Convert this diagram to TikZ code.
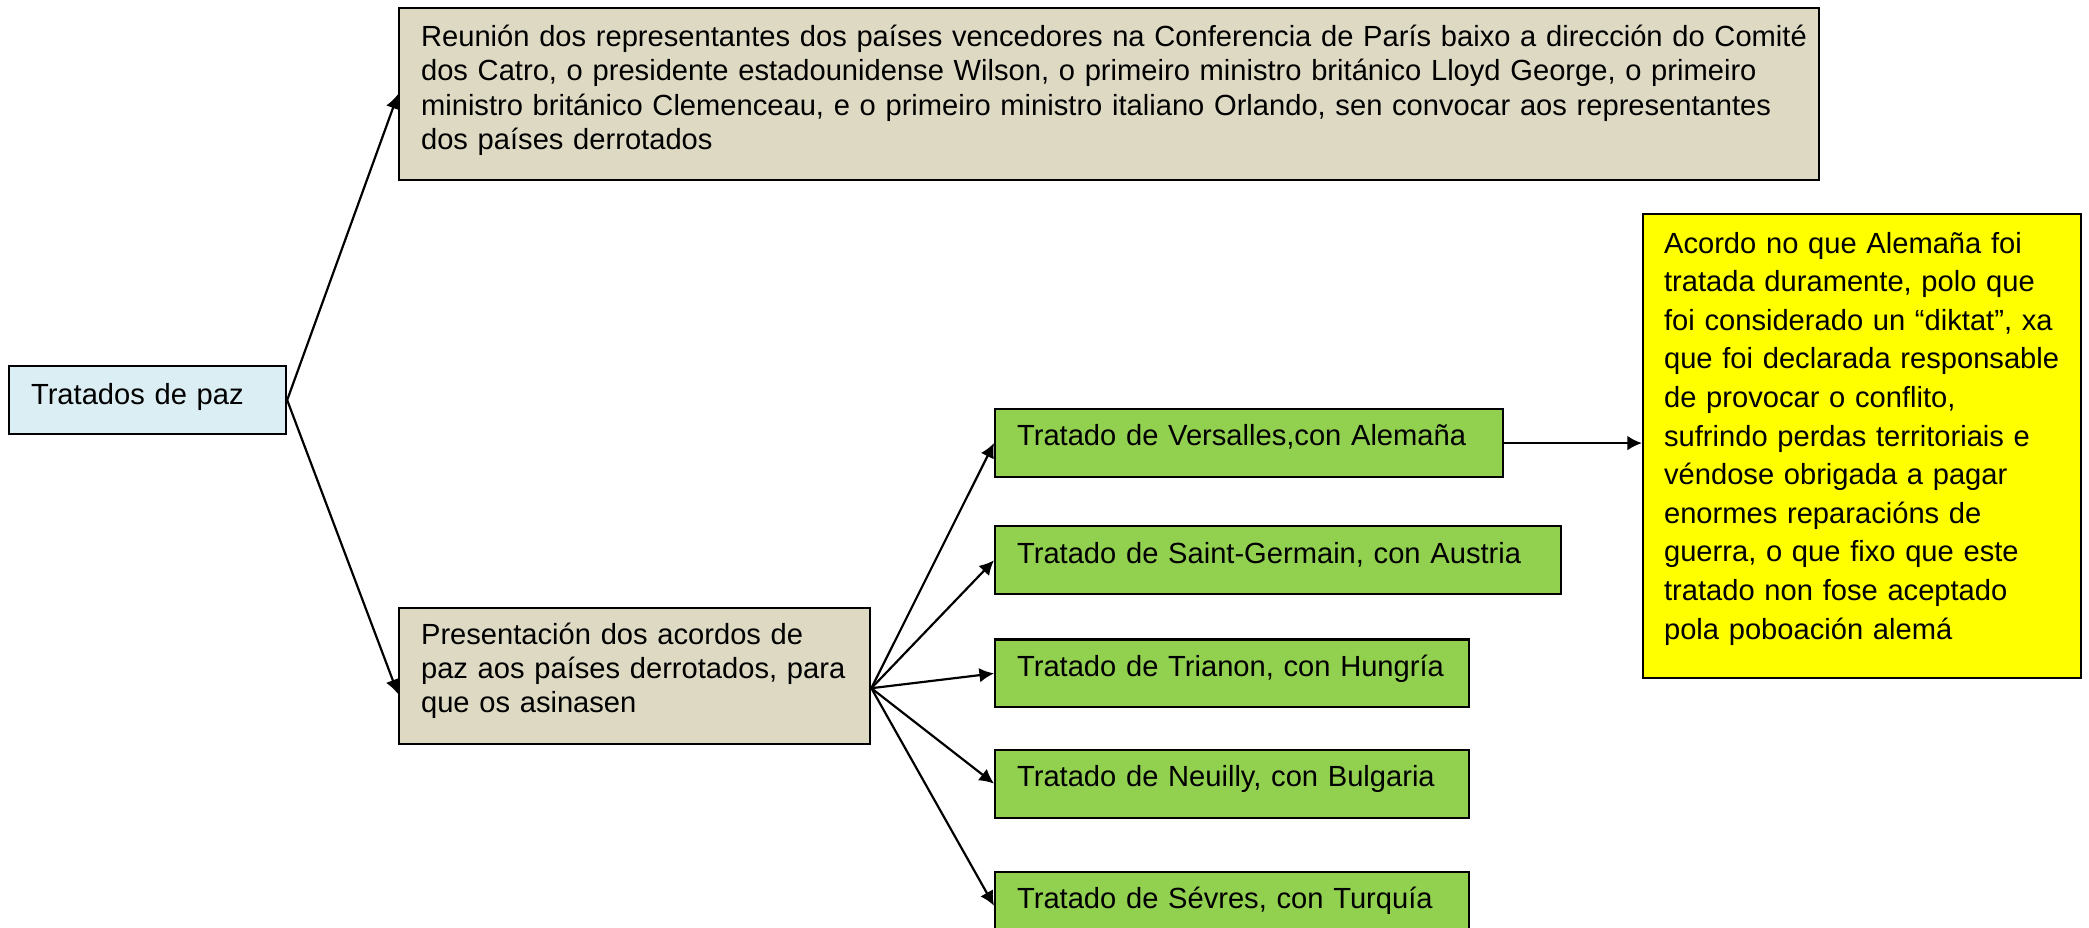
\documentclass[tikz,border=0pt]{standalone}
\usepackage{fontspec}
\setmainfont{Liberation Sans}
\usetikzlibrary{positioning,arrows.meta}

\definecolor{azulclaro}{RGB}{218,238,243}
\definecolor{crema}{RGB}{221,217,195}
\definecolor{verde}{RGB}{146,208,80}
\definecolor{amarelo}{RGB}{255,255,0}

\tikzset{
  caixa/.style={draw, line width=0.9pt, rectangle, anchor=north west, align=left,
    inner xsep=9.06pt, inner ysep=0pt, text height=15.7pt,
    font=\fontsize{12}{14.2}\selectfont,
    execute at begin node={\rightskip=0pt plus 1fil minus 20pt}},
  tratado/.style={caixa, fill=verde, text height=15.2pt, text depth=12.8pt},
  frecha/.style={-{Latex[length=6pt,width=6pt]}, line width=0.9pt},
}

\begin{document}
\begin{tikzpicture}[x=0.412pt, y=-0.412pt]
\useasboundingbox (0,0) rectangle (2089,928);

\node[caixa, fill=azulclaro, text width=96pt, text depth=12.3pt] (tratados) at (8,365) {Tratados de paz};

\node[caixa, fill=crema, text width=566.9pt, text depth=55.2pt] (reunion) at (398,7)
  {Reunión dos representantes dos países vencedores na Conferencia de París baixo a dirección do Comité\\
   dos Catro, o presidente estadounidense Wilson, o primeiro ministro británico Lloyd George, o primeiro\\
   ministro británico Clemenceau, e o primeiro ministro italiano Orlando, sen convocar aos representantes\\
   dos países derrotados};

\node[caixa, fill=crema, text width=176pt, text height=14.8pt, text depth=41.2pt] (pres) at (398,607)
  {Presentación dos acordos de\\ paz aos países derrotados, para\\ que os asinasen};

% tratados
\node[tratado, text width=191.2pt] (versalles) at (994,408) {Tratado de Versalles,con Alemaña};
\node[tratado, text width=215.1pt, below=19.4pt of versalles.south west, anchor=north west] (germain) {Tratado de Saint-Germain, con Austria};
\node[tratado, text width=177.2pt, below=17.7pt of germain.south west, anchor=north west] (trianon) {Tratado de Trianon, con Hungría};
\node[tratado, text width=177.2pt, below=16.5pt of trianon.south west, anchor=north west] (neuilly) {Tratado de Neuilly, con Bulgaria};
\node[tratado, text width=177.2pt, below=21.4pt of neuilly.south west, anchor=north west] (sevres) {Tratado de Sévres, con Turquía};

\node[caixa, fill=amarelo, inner xsep=8.65pt, text width=163.2pt, text height=16.1pt, text depth=175.1pt,
  font=\fontsize{12}{15.9}\selectfont] (acordo) at (1642,213)
  {Acordo no que Alemaña foi\\ tratada duramente, polo que\\ foi considerado un “diktat”, xa\\
   que foi declarada responsable\\ de provocar o conflito,\\ sufrindo perdas territoriais e\\
   véndose obrigada a pagar\\ enormes reparacións de\\ guerra, o que fixo que este\\
   tratado non fose aceptado\\ pola poboación alemá};

\draw[frecha] (tratados.east) -- (reunion.west);
\draw[frecha] (tratados.east) -- ([yshift=-7.4pt]pres.west);

\coordinate (abano) at ([yshift=-5pt]pres.east);
\foreach \t in {versalles,germain,trianon,neuilly,sevres}
  \draw[frecha] (abano) -- (\t.west);

\draw[frecha] (versalles.east) -- (versalles.east -| acordo.west);
\end{tikzpicture}
\end{document}
